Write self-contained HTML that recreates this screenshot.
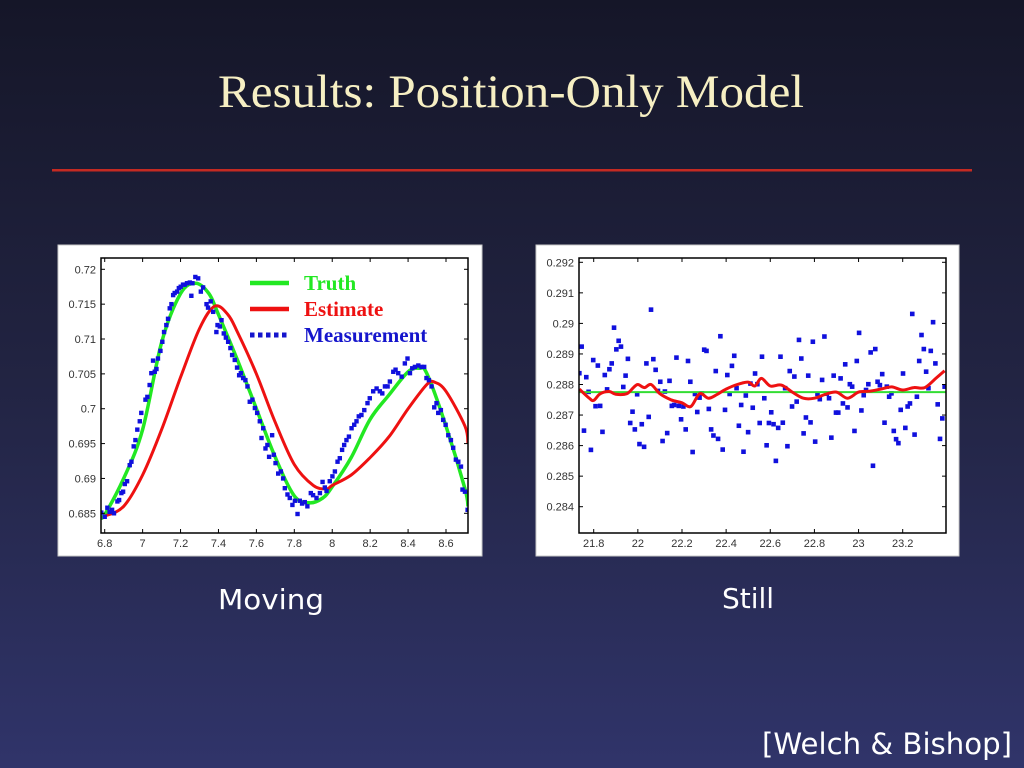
<!DOCTYPE html>
<html><head><meta charset="utf-8"><style>
html,body{margin:0;padding:0;width:1024px;height:768px;overflow:hidden;background:#1c1d38}
svg{display:block}
.tk{font-family:"Liberation Sans",sans-serif;font-size:11px;fill:#333}
</style></head><body>
<svg id="s" width="1024" height="768" viewBox="0 0 1024 768" xmlns="http://www.w3.org/2000/svg">
<defs><linearGradient id="bg" x1="0" y1="0" x2="0" y2="1"><stop offset="0" stop-color="#151628"/><stop offset="0.5" stop-color="#222443"/><stop offset="1" stop-color="#30346a"/></linearGradient></defs>
<rect width="1024" height="768" fill="url(#bg)"/>
<text x="511" y="107" text-anchor="middle" textLength="586" lengthAdjust="spacingAndGlyphs" font-family="Liberation Serif, serif" font-size="47" fill="#f6efc3">Results: Position-Only Model</text>
<rect x="52" y="169" width="920" height="2.5" fill="#c42a22"/>
<rect x="58" y="245" width="424" height="311" fill="#fff" stroke="#c8c8c8"/>
<rect x="536" y="245" width="423" height="311" fill="#fff" stroke="#c8c8c8"/>
<g id="c1"></g>
<g id="c2"></g>
<text x="271" y="609" text-anchor="middle" textLength="106" lengthAdjust="spacingAndGlyphs" font-family="DejaVu Sans, sans-serif" font-size="28" fill="#fff">Moving</text>
<text x="748" y="608" text-anchor="middle" font-family="DejaVu Sans, sans-serif" font-size="28" fill="#fff">Still</text>
<text x="1012" y="754" text-anchor="end" textLength="250" lengthAdjust="spacingAndGlyphs" font-family="DejaVu Sans, sans-serif" font-size="29" fill="#fff">[Welch &amp; Bishop]</text>
</svg>
<script>
// Moving chart data
const m_truthX=[6.78,6.8,6.9,7.0,7.1,7.2,7.28,7.35,7.4,7.5,7.6,7.7,7.8,7.88,7.95,8.0,8.1,8.2,8.3,8.4,8.46,8.5,8.6,8.7,8.716];
const m_truthY=[0.6845,0.6848,0.6900,0.6970,0.7095,0.7165,0.7180,0.7165,0.7135,0.7070,0.7000,0.6930,0.6875,0.6865,0.6872,0.6888,0.6930,0.6985,0.7020,0.7053,0.7058,0.7050,0.6975,0.6885,0.6860];
const m_estX=[6.79,6.8,6.9,7.0,7.1,7.2,7.3,7.38,7.45,7.5,7.6,7.7,7.8,7.9,7.97,8.0,8.1,8.2,8.3,8.4,8.5,8.54,8.6,8.7,8.716];
const m_estY=[0.6845,0.6846,0.6860,0.6905,0.6970,0.7045,0.7115,0.7147,0.7135,0.7110,0.7050,0.6980,0.6920,0.6890,0.6885,0.6890,0.6905,0.6930,0.6960,0.7000,0.7035,0.7038,0.7025,0.6975,0.6950];
const m_measX=[6.782,6.800,6.814,6.826,6.839,6.849,6.867,6.876,6.888,6.897,6.906,6.918,6.932,6.941,6.953,6.962,6.972,6.985,6.993,7.015,7.025,7.037,7.046,7.055,7.064,7.073,7.081,7.094,7.104,7.113,7.125,7.134,7.143,7.152,7.161,7.169,7.182,7.191,7.201,7.213,7.222,7.234,7.249,7.257,7.263,7.278,7.293,7.307,7.319,7.337,7.345,7.359,7.372,7.389,7.395,7.407,7.416,7.428,7.439,7.451,7.463,7.472,7.486,7.498,7.509,7.518,7.530,7.542,7.553,7.565,7.579,7.592,7.604,7.618,7.627,7.636,7.648,7.658,7.667,7.683,7.692,7.701,7.715,7.729,7.741,7.750,7.764,7.776,7.790,7.803,7.817,7.829,7.841,7.855,7.869,7.887,7.899,7.917,7.935,7.949,7.961,7.970,7.987,8.001,8.014,8.028,8.040,8.052,8.063,8.075,8.088,8.102,8.116,8.128,8.140,8.154,8.169,8.186,8.198,8.216,8.234,8.251,8.264,8.278,8.292,8.304,8.322,8.334,8.348,8.366,8.383,8.397,8.410,8.422,8.436,8.454,8.471,8.485,8.497,8.510,8.524,8.538,8.550,8.559,8.573,8.585,8.598,8.612,8.626,8.638,8.652,8.665,8.679,8.687,8.700,8.714];
const m_measY=[0.6851,0.6845,0.6858,0.6852,0.6855,0.6850,0.6867,0.6869,0.6879,0.6881,0.6892,0.6896,0.6919,0.6924,0.6946,0.6955,0.6970,0.6982,0.6994,0.7013,0.7017,0.7034,0.7051,0.7069,0.7053,0.7057,0.7072,0.7083,0.7096,0.7110,0.7120,0.7129,0.7144,0.7150,0.7163,0.7166,0.7168,0.7173,0.7175,0.7178,0.7178,0.7180,0.7181,0.7162,0.7180,0.7189,0.7187,0.7168,0.7174,0.7150,0.7145,0.7154,0.7139,0.7110,0.7120,0.7118,0.7127,0.7108,0.7102,0.7096,0.7087,0.7077,0.7070,0.7059,0.7048,0.7051,0.7044,0.7041,0.7032,0.7010,0.7013,0.7001,0.6994,0.6982,0.6958,0.6972,0.6943,0.6948,0.6931,0.6962,0.6934,0.6922,0.6907,0.6910,0.6900,0.6886,0.6877,0.6872,0.6862,0.6868,0.6849,0.6868,0.6864,0.6866,0.6860,0.6879,0.6876,0.6872,0.6879,0.6895,0.6887,0.6882,0.6896,0.6903,0.6910,0.6924,0.6929,0.6941,0.6948,0.6955,0.6960,0.6972,0.6977,0.6982,0.6989,0.6991,0.6998,0.7008,0.7015,0.7025,0.7029,0.7025,0.7022,0.7032,0.7032,0.7039,0.7053,0.7056,0.7051,0.7046,0.7065,0.7072,0.7051,0.7058,0.7060,0.7062,0.7060,0.7060,0.7044,0.7041,0.7032,0.7002,0.7008,0.6994,0.6998,0.6984,0.6977,0.6962,0.6955,0.6944,0.6927,0.6924,0.6917,0.6884,0.6881,0.6855];
const m_xTicks=[6.8,7,7.2,7.4,7.6,7.8,8,8.2,8.4,8.6];
const m_xLabels=["6.8","7","7.2","7.4","7.6","7.8","8","8.2","8.4","8.6"];
const m_yTicks=[0.685,0.69,0.695,0.7,0.705,0.71,0.715,0.72];
const m_yLabels=["0.685","0.69","0.695","0.7","0.705","0.71","0.715","0.72"];
// Still chart data
const s_truthY=0.28775;
const s_estX=[21.735,21.78,21.8,21.83,21.87,21.9,21.95,21.98,22.0,22.03,22.06,22.1,22.15,22.2,22.24,22.28,22.32,22.36,22.4,22.45,22.5,22.53,22.56,22.6,22.65,22.7,22.75,22.8,22.85,22.9,22.95,23.0,23.05,23.1,23.15,23.2,23.25,23.3,23.35,23.39];
const s_estY=[0.28785,0.28755,0.28748,0.28770,0.28777,0.28768,0.28770,0.28790,0.28800,0.28790,0.28800,0.28770,0.28750,0.28740,0.28728,0.28770,0.28755,0.28768,0.28785,0.28800,0.28808,0.28795,0.28820,0.28795,0.28798,0.28775,0.28755,0.28755,0.28768,0.28775,0.28755,0.28775,0.28778,0.28785,0.28792,0.28782,0.28790,0.28790,0.28820,0.28845];
const s_measY=[0.28837,0.28924,0.28649,0.28824,0.28776,0.28586,0.28880,0.28729,0.28862,0.28730,0.28645,0.28831,0.28784,0.28850,0.28869,0.28986,0.28915,0.28943,0.28924,0.28792,0.28829,0.28884,0.28674,0.28711,0.28653,0.28768,0.28605,0.28670,0.28596,0.28869,0.28694,0.29045,0.28883,0.28848,0.28779,0.28809,0.28615,0.28777,0.28641,0.28812,0.28730,0.28733,0.28888,0.28730,0.28686,0.28728,0.28653,0.28877,0.28809,0.28579,0.28769,0.28710,0.28757,0.28771,0.28914,0.28910,0.28720,0.28653,0.28633,0.28844,0.28622,0.28958,0.28587,0.28717,0.28831,0.28769,0.28861,0.28894,0.28788,0.28665,0.28733,0.28580,0.28764,0.28644,0.28803,0.28724,0.28836,0.28801,0.28674,0.28891,0.28755,0.28601,0.28674,0.28709,0.28670,0.28550,0.28658,0.28891,0.28675,0.28788,0.28598,0.28844,0.28728,0.28826,0.28744,0.28946,0.28885,0.28640,0.28692,0.28829,0.28676,0.28940,0.28613,0.28769,0.28752,0.28815,0.28957,0.28770,0.28755,0.28626,0.28829,0.28708,0.28708,0.28820,0.28738,0.28866,0.28725,0.28801,0.28793,0.28648,0.28877,0.28969,0.28715,0.28765,0.28782,0.28801,0.28905,0.28534,0.28916,0.28809,0.28798,0.28834,0.28675,0.28793,0.28760,0.28771,0.28648,0.28621,0.28608,0.28717,0.28836,0.28658,0.28728,0.28738,0.29031,0.28636,0.28760,0.28877,0.28962,0.28916,0.28842,0.28788,0.28910,0.29004,0.28869,0.28735,0.28622,0.28689,0.28793];
const s_measStart=21.735, s_measEnd=23.39;
const s_xTicks=[21.8,22,22.2,22.4,22.6,22.8,23,23.2];
const s_xLabels=["21.8","22","22.2","22.4","22.6","22.8","23","23.2"];
const s_yTicks=[0.284,0.285,0.286,0.287,0.288,0.289,0.29,0.291,0.292];
const s_yLabels=["0.284","0.285","0.286","0.287","0.288","0.289","0.29","0.291","0.292"];

const NS="http://www.w3.org/2000/svg";
function mk(tag,attrs,parent){const e=document.createElementNS(NS,tag);for(const k in attrs)e.setAttribute(k,attrs[k]);parent.appendChild(e);return e;}
function scale(d0,d1,r0,r1){return v=>r0+(v-d0)/(d1-d0)*(r1-r0);}

function axes(g,L,T,R,B,sx,sy,xt,xl,yt,yl,name){
  for(let i=0;i<xt.length;i++){const x=sx(xt[i]);
    const t=mk('line',{x1:x,x2:x,y1:B,y2:B-4,stroke:'#000'},g);
    
    
    const t2=mk('line',{x1:x,x2:x,y1:T,y2:T+4,stroke:'#000'},g);
    
    
    const tx=mk('text',{x:x,y:B+14,'text-anchor':'middle',class:'tk'},g);tx.textContent=xl[i];
    
    }
  for(let i=0;i<yt.length;i++){const y=sy(yt[i]);
    const t=mk('line',{x1:L,x2:L+4,y1:y,y2:y,stroke:'#000'},g);
    
    
    const t2=mk('line',{x1:R,x2:R-4,y1:y,y2:y,stroke:'#000'},g);
    
    
    const tx=mk('text',{x:L-5,y:y+4,'text-anchor':'end',class:'tk'},g);tx.textContent=yl[i];
    
    }
  const f=mk('rect',{x:L,y:T,width:R-L,height:B-T,fill:'none',stroke:'#000','stroke-width':1.5},g);
  
  
}
function path(xs,ys,sx,sy){return xs.map((x,i)=>(i?'L':'M')+sx(x).toFixed(1)+','+sy(ys[i]).toFixed(1)).join('');}
function smooth(xs,ys,sx,sy){
  const P=xs.map((x,i)=>[sx(x),sy(ys[i])]);let d='M'+P[0][0].toFixed(1)+','+P[0][1].toFixed(1);
  for(let i=0;i<P.length-1;i++){const p0=P[Math.max(0,i-1)],p1=P[i],p2=P[i+1],p3=P[Math.min(P.length-1,i+2)];
    const c1=[p1[0]+(p2[0]-p0[0])/6,p1[1]+(p2[1]-p0[1])/6],c2=[p2[0]-(p3[0]-p1[0])/6,p2[1]-(p3[1]-p1[1])/6];
    d+='C'+c1[0].toFixed(1)+','+c1[1].toFixed(1)+' '+c2[0].toFixed(1)+','+c2[1].toFixed(1)+' '+p2[0].toFixed(1)+','+p2[1].toFixed(1);}
  return d;}

// Moving chart
(function(){
  const g=document.getElementById('c1');const L=101,T=258,R=468,B=533;
  const sx=scale(6.8,8.6,104.7,446),sy=scale(0.685,0.72,513.3,269.3);
  mk('clipPath',{id:'cp1'},g).appendChild(document.createElementNS(NS,'rect'));
  const cr=g.querySelector('#cp1 rect');cr.setAttribute('x',L);cr.setAttribute('y',T);cr.setAttribute('width',R-L);cr.setAttribute('height',B-T);
  const pg=mk('g',{'clip-path':'url(#cp1)'},g);
  const tl=mk('path',{d:smooth(m_truthX,m_truthY,sx,sy),fill:'none',stroke:'#22e822','stroke-width':3.5,'stroke-linejoin':'round'},pg);
  
  
  const el=mk('path',{d:smooth(m_estX,m_estY,sx,sy),fill:'none',stroke:'#ee1111','stroke-width':3,'stroke-linejoin':'round'},pg);
  
  
  for(let i=0;i<m_measX.length;i++){
    const p=mk('rect',{x:sx(m_measX[i])-2.2,y:sy(m_measY[i])-2.2,width:4.4,height:4.4,fill:'#1010dd'},pg);
    
    }
  axes(g,L,T,R,B,sx,sy,m_xTicks,m_xLabels,m_yTicks,m_yLabels,'moving');
  const lg=mk('g',{},g);
  
  
  const items=[['Truth','#22e822',290],['Estimate','#ee1111',316],['Measurement','#1515cc',342]];
  items.forEach((it,i)=>{
    const ln=mk('line',{x1:250,x2:289,y1:it[2]-7,y2:it[2]-7,stroke:it[1],'stroke-width':i==2?5:4.5,'stroke-dasharray':i==2?'4.5,3.5':'none'},lg);
    
    
    const tx=mk('text',{x:304,y:it[2],'font-family':'Liberation Serif, serif','font-size':21,'font-weight':'bold',fill:it[1]},lg);tx.textContent=it[0];
    
    
  });
})();

// Still chart
(function(){
  const g=document.getElementById('c2');const L=579,T=258,R=946,B=533;
  const sx=scale(21.8,23.2,593.7,902.7),sy=scale(0.284,0.292,506.7,262.3);
  mk('clipPath',{id:'cp2'},g).appendChild(document.createElementNS(NS,'rect'));
  const cr=g.querySelector('#cp2 rect');cr.setAttribute('x',L);cr.setAttribute('y',T);cr.setAttribute('width',R-L);cr.setAttribute('height',B-T);
  const pg=mk('g',{'clip-path':'url(#cp2)'},g);
  for(let i=0;i<s_measY.length;i++){
    const x=s_measStart+i*(s_measEnd-s_measStart)/(s_measY.length-1);
    const p=mk('rect',{x:sx(x)-2.3,y:sy(s_measY[i])-2.3,width:4.6,height:4.6,fill:'#1010dd'},pg);
    
    }
  const tl=mk('line',{x1:L,x2:R,y1:sy(s_truthY),y2:sy(s_truthY),stroke:'#33dd33','stroke-width':2},pg);
  
  
  const el=mk('path',{d:smooth(s_estX,s_estY,sx,sy),fill:'none',stroke:'#ee1111','stroke-width':3,'stroke-linejoin':'round'},pg);
  
  
  axes(g,L,T,R,B,sx,sy,s_xTicks,s_xLabels,s_yTicks,s_yLabels,'still');
})();
</script>
</body></html>
